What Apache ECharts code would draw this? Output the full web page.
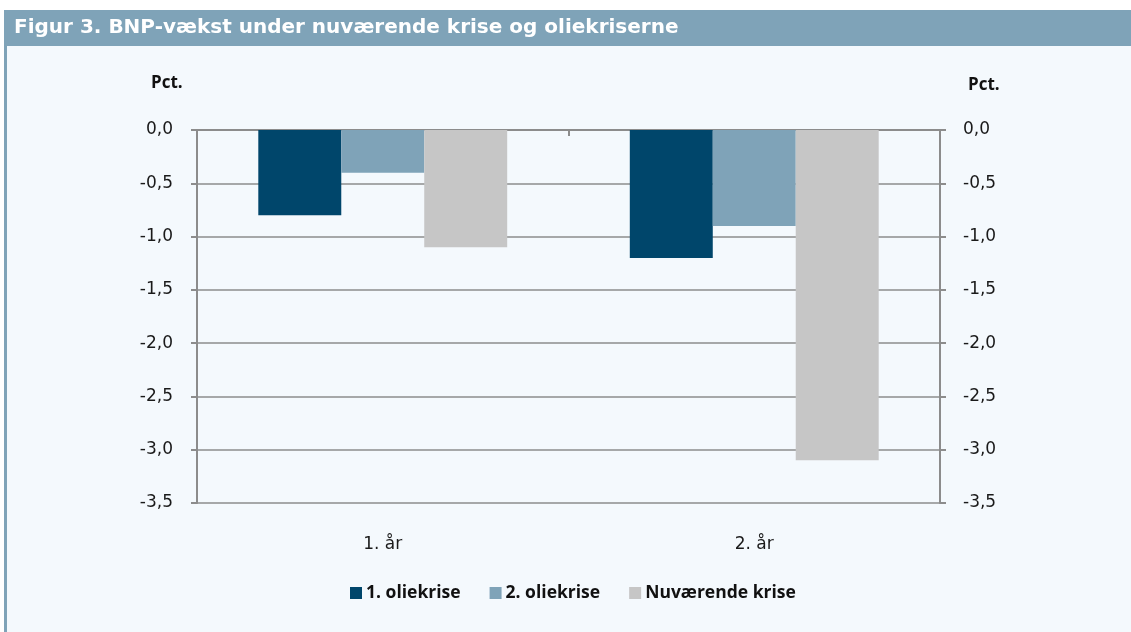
<!DOCTYPE html>
<html>
<head>
<meta charset="utf-8">
<script src="https://cdn.jsdelivr.net/npm/echarts@6/dist/echarts.min.js"></script>
<style>
	html, body { margin: 0; padding: 0; background: #fff; }
	#chart { width: 1131px; height: 632px; }
</style>
</head>
<body>
<div id="chart"></div>
<script>
var categories = ['1. år', '2. år'];
var oliekrise1 = [-0.8, -1.2];
var oliekrise2 = [-0.4, -0.9];
var nuvaerende = [-1.1, -3.1];

var fmt = function(v) { return v.toFixed(1).replace('.', ','); };
var labelFont = { color: '#1a1a1a', fontSize: 17, fontFamily: 'DejaVu Sans' };

var myChart = echarts.init(document.getElementById('chart'));
myChart.setOption({
	animation: false,
	backgroundColor: '#fff',
	graphic: [
		// panel background + left stripe + title bar
		{ type: 'rect', left: 4, top: 10, shape: { width: 1127, height: 622 }, style: { fill: '#F4F9FD' }, z: -10 },
		{ type: 'rect', left: 4, top: 10, shape: { width: 3, height: 622 }, style: { fill: '#7FA3B8' }, z: -9 },
		{ type: 'rect', left: 4, top: 10, shape: { width: 1127, height: 36 }, style: { fill: '#7FA3B8' }, z: -9 },
		{ type: 'text', left: 14, top: 18, style: { text: 'Figur 3. BNP-vækst under nuværende krise og oliekriserne', fill: '#fff', font: 'bold 20px "DejaVu Sans"' } },
		{ type: 'text', left: 151, top: 75, style: { text: 'Pct.', fill: '#111', font: 'bold 17px "Open Sans"' } },
		{ type: 'text', left: 968, top: 77, style: { text: 'Pct.', fill: '#111', font: 'bold 17px "Open Sans"' } }
	],
	legend: {
		bottom: 30,
		left: 350,
		padding: 0,
		itemWidth: 12,
		itemHeight: 12,
		itemGap: 29,
		icon: 'rect',
		textStyle: { color: '#111', fontSize: 17.5, fontWeight: 'bold', fontFamily: 'Open Sans', padding: [0, 0, 0, -1] },
		data: ['1. oliekrise', '2. oliekrise', 'Nuværende krise']
	},
	grid: { left: 197, right: 191, top: 130, bottom: 129 },
	xAxis: [
		{
			type: 'category',
			data: categories,
			position: 'bottom',
			axisLine: { show: false },
			axisTick: { show: false },
			axisLabel: Object.assign({ margin: 33 }, labelFont)
		},
		{
			type: 'category',
			data: categories,
			position: 'top',
			axisLine: { show: true, onZero: false, lineStyle: { color: '#8C8C8C', width: 2 } },
			axisTick: { show: true, inside: true, length: 6, lineStyle: { color: '#8C8C8C', width: 2 } },
			axisLabel: { show: false }
		}
	],
	yAxis: [
		{
			type: 'value',
			position: 'left',
			min: -3.5, max: 0, interval: 0.5,
			axisLine: { show: true, lineStyle: { color: '#8C8C8C', width: 2 } },
			axisTick: { show: true, length: 6, lineStyle: { color: '#8C8C8C', width: 2 } },
			splitLine: { show: true, lineStyle: { color: '#8C8C8C', width: 1.5 } },
			axisLabel: Object.assign({ margin: 24, formatter: fmt }, labelFont)
		},
		{
			type: 'value',
			position: 'right',
			min: -3.5, max: 0, interval: 0.5,
			axisLine: { show: true, lineStyle: { color: '#8C8C8C', width: 2 } },
			axisTick: { show: true, length: 6, lineStyle: { color: '#8C8C8C', width: 2 } },
			splitLine: { show: false },
			axisLabel: Object.assign({ margin: 23, formatter: fmt }, labelFont)
		}
	],
	series: [
		{ name: '1. oliekrise', type: 'bar', data: oliekrise1, itemStyle: { color: '#00466B' }, barGap: '0%', barCategoryGap: '33%' },
		{ name: '2. oliekrise', type: 'bar', data: oliekrise2, itemStyle: { color: '#7FA3B8' } },
		{ name: 'Nuværende krise', type: 'bar', data: nuvaerende, itemStyle: { color: '#C6C6C6' } }
	]
});
</script>
</body>
</html>
